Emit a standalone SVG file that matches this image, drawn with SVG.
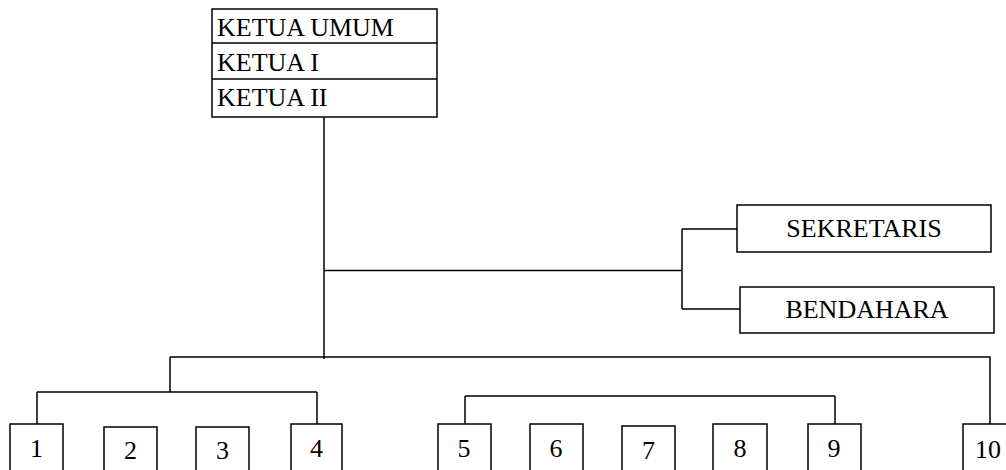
<svg xmlns="http://www.w3.org/2000/svg" width="1006" height="470" viewBox="0 0 1006 470">
<style>
.box{fill:#fff;stroke:#000;stroke-width:1.5}
.t{font-family:"Liberation Serif","Times New Roman",serif;font-size:26px;fill:#000}
.c{text-anchor:middle}
.ln{fill:none;stroke:#000;stroke-width:1.5}
</style>
<rect width="1006" height="470" fill="#fff"/>
<g id="connectors" class="ln">
<path d="M324,117 V359"/>
<path d="M324,270.5 H682 M682,229 V309 M682,229 H737 M682,309 H740"/>
<path d="M170,357 H990 V424 M170,357 V392 M37,392 H317 M37,392 V424 M317,392 V424"/>
<path d="M465,396 H835 M465,396 V424 M835,396 V424"/>
</g>
<g id="ketua">
<rect class="box" x="212" y="9" width="225" height="108"/>
<line class="ln" x1="212" y1="43" x2="437" y2="43"/>
<line class="ln" x1="212" y1="79" x2="437" y2="79"/>
<text class="t" x="217" y="36">KETUA UMUM</text>
<text class="t" x="217" y="71">KETUA I</text>
<text class="t" x="217" y="106">KETUA II</text>
</g>
<g id="sekretaris">
<rect class="box" x="737" y="205" width="254" height="47"/>
<text class="t c" x="864" y="237">SEKRETARIS</text>
</g>
<g id="bendahara">
<rect class="box" x="740" y="287" width="254" height="46"/>
<text class="t c" x="867" y="318">BENDAHARA</text>
</g>
<g id="n1"><rect class="box" x="10" y="424" width="53" height="60"/><text class="t c" x="36.5" y="457">1</text></g>
<g id="n2"><rect class="box" x="104" y="427" width="53" height="60"/><text class="t c" x="130.5" y="459">2</text></g>
<g id="n3"><rect class="box" x="196" y="427" width="53" height="60"/><text class="t c" x="222.5" y="459">3</text></g>
<g id="n4"><rect class="box" x="291" y="424" width="51" height="60"/><text class="t c" x="316.5" y="457">4</text></g>
<g id="n5"><rect class="box" x="438" y="424" width="53" height="60"/><text class="t c" x="464" y="457">5</text></g>
<g id="n6"><rect class="box" x="530" y="424" width="53" height="60"/><text class="t c" x="556" y="457">6</text></g>
<g id="n7"><rect class="box" x="622" y="426" width="53" height="60"/><text class="t c" x="648.5" y="459">7</text></g>
<g id="n8"><rect class="box" x="713" y="424" width="54" height="60"/><text class="t c" x="740" y="457">8</text></g>
<g id="n9"><rect class="box" x="808" y="424" width="53" height="60"/><text class="t c" x="834" y="457">9</text></g>
<g id="n10"><rect class="box" x="963" y="424" width="53" height="60"/><text class="t c" x="988" y="458">10</text></g>
</svg>
